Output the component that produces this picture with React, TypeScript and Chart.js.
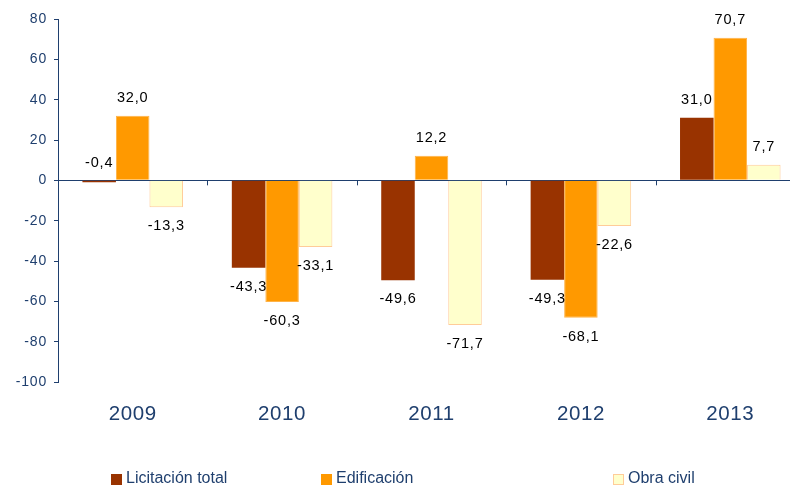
import React, { useEffect, useRef } from "react";
import { Chart, registerables } from "chart.js";

Chart.register(...registerables);

const years = ["2009", "2010", "2011", "2012", "2013"];
const seriesNames = ["Licitación total", "Edificación", "Obra civil"];
const licitacionTotal = [-0.4, -43.3, -49.6, -49.3, 31.0];
const edificacion = [32.0, -60.3, 12.2, -68.1, 70.7];
const obraCivil = [-13.3, -33.1, -71.7, -22.6, 7.7];
const yTicks = { min: -100, max: 80, step: 20 };

const fillColors = ["#993300", "#FF9900", "#FFFFCC"];
const borderColors = ["#993300", "#FFB347", "#FFCC99"];
const NAVY = "#1F3F6E";
const FONT = "'Liberation Sans', Arial, sans-serif";

const legendBoxLeft = [111, 321, 613];

const spacingPlugin = {
  id: "spacing",
  beforeDraw(chart: any) {
    (chart.ctx as any).letterSpacing = "0.8px";
  },
  afterDatasetsDraw(chart: any) {
    (chart.ctx as any).letterSpacing = "0.6px";
  },
};

const dataLabelPlugin = {
  id: "dataLabels",
  afterDatasetsDraw(chart: any) {
    const ctx = chart.ctx;
    ctx.save();
    (ctx as any).letterSpacing = "0.8px";
    ctx.font = `14.5px ${FONT}`;
    ctx.fillStyle = "#000000";
    ctx.textAlign = "center";
    ctx.textBaseline = "middle";
    chart.data.datasets.forEach((ds: any, di: number) => {
      const meta = chart.getDatasetMeta(di);
      meta.data.forEach((el: any, i: number) => {
        const v = ds.data[i] as number;
        const txt = v.toFixed(1).replace(".", ",");
        const base = chart.scales.y.getPixelForValue(v);
        const y = v > -1 ? base - 18 : base + 19;
        ctx.fillText(txt, el.x, y);
      });
    });
    ctx.restore();
  },
};

const categoryTicksPlugin = {
  id: "categoryTicks",
  afterDraw(chart: any) {
    const ctx = chart.ctx;
    const xs = chart.scales.x;
    const ys = chart.scales.y;
    const y0 = ys.getPixelForValue(0);
    ctx.save();
    ctx.strokeStyle = NAVY;
    ctx.lineWidth = 1;
    for (let i = 1; i <= years.length; i++) {
      const x = Math.round(xs.getPixelForValue(i - 0.5)) + 0.5;
      ctx.beginPath();
      ctx.moveTo(x, y0);
      ctx.lineTo(x, y0 + 5);
      ctx.stroke();
    }
    ctx.restore();
  },
};

export default function App() {
  const ref = useRef<HTMLCanvasElement | null>(null);

  useEffect(() => {
    if (!ref.current) return;
    const values = [licitacionTotal, edificacion, obraCivil];
    const chart = new Chart(ref.current, {
      type: "bar",
      data: {
        labels: years,
        datasets: seriesNames.map((name, i) => ({
          label: name,
          data: values[i],
          backgroundColor: fillColors[i],
          borderColor: borderColors[i],
          borderWidth: i === 0 ? 0 : 1,
          categoryPercentage: 0.673,
          barPercentage: 1.0,
          minBarLength: 2,
        })),
      },
      options: {
        animation: false,
        responsive: false,
        layout: { padding: { top: 19, right: 1, left: 0, bottom: 0 } },
        plugins: {
          legend: { display: false },
          tooltip: { enabled: false },
        },
        scales: {
          x: {
            grid: { display: false, drawTicks: false },
            border: { display: false },
            ticks: {
              color: NAVY,
              font: { family: FONT, size: 20.5 },
              padding: 20,
              z: 1,
            },
            afterFit(scale: any) {
              scale.height = 104;
            },
          },
          y: {
            min: yTicks.min,
            max: yTicks.max,
            border: { display: true, color: NAVY, width: 1 },
            grid: {
              color: (c: any) => (c.tick && c.tick.value === 0 ? NAVY : "transparent"),
              tickColor: NAVY,
              tickLength: 4,
              drawTicks: true,
            },
            ticks: {
              stepSize: yTicks.step,
              color: NAVY,
              font: { family: FONT, size: 14 },
              padding: 7,
            },
            afterFit(scale: any) {
              scale.width = 58;
            },
          },
        },
      },
      plugins: [spacingPlugin, dataLabelPlugin, categoryTicksPlugin],
    });
    return () => chart.destroy();
  }, []);

  return (
    <div
      style={{
        position: "absolute",
        left: 0,
        top: 0,
        width: 790,
        height: 486,
        overflow: "hidden",
        background: "#ffffff",
      }}
    >
      <canvas ref={ref} width={806} height={486} style={{ display: "block" }} />
      {seriesNames.map((name, i) => (
        <React.Fragment key={name}>
          <div
            style={{
              position: "absolute",
              left: legendBoxLeft[i],
              top: 474,
              width: i === 2 ? 9 : 11,
              height: i === 2 ? 9 : 11,
              background: fillColors[i],
              border: i === 2 ? `1px solid ${borderColors[i]}` : "none",
            }}
          />
          <div
            style={{
              position: "absolute",
              left: legendBoxLeft[i] + 15,
              top: 469,
              fontFamily: FONT,
              fontSize: 16,
              lineHeight: "18px",
              color: NAVY,
              whiteSpace: "nowrap",
            }}
          >
            {name}
          </div>
        </React.Fragment>
      ))}
    </div>
  );
}
